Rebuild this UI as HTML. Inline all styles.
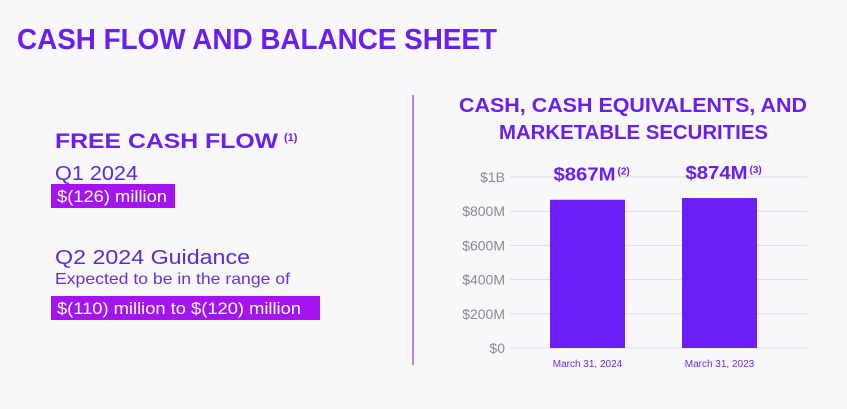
<!DOCTYPE html>
<html><head><meta charset="utf-8"><style>
html,body{margin:0;padding:0;background:#f8f7fa;}
svg{display:block;font-family:"Liberation Sans",sans-serif;}
</style></head><body>
<svg width="847" height="409" viewBox="0 0 847 409">
<rect width="847" height="409" fill="#f8f7fa"/>
<text x="17" y="49" font-size="29" font-weight="bold" fill="#6a1ff0" textLength="480" lengthAdjust="spacingAndGlyphs">CASH FLOW AND BALANCE SHEET</text>

<g>
<text x="55" y="148" font-size="21" font-weight="bold" fill="#6a1ff0" textLength="223" lengthAdjust="spacingAndGlyphs">FREE CASH FLOW</text>
<text x="284" y="141" font-size="11" font-weight="bold" fill="#6a1ff0">(1)</text>
<text x="55" y="180" font-size="20" fill="#5a2bd6" textLength="83" lengthAdjust="spacingAndGlyphs">Q1 2024</text>
<rect x="51" y="184" width="124" height="24" fill="#a414f0"/>
<text x="57" y="202" font-size="17" fill="#ffffff" textLength="110" lengthAdjust="spacingAndGlyphs">$(126) million</text>
<text x="55" y="264" font-size="20" fill="#5a2bd6" textLength="195" lengthAdjust="spacingAndGlyphs">Q2 2024 Guidance</text>
<text x="55" y="284" font-size="16" fill="#6a2fe0" textLength="235" lengthAdjust="spacingAndGlyphs">Expected to be in the range of</text>
<rect x="51" y="296" width="269" height="24" fill="#a414f0"/>
<text x="57" y="314" font-size="17" fill="#ffffff" textLength="244" lengthAdjust="spacingAndGlyphs">$(110) million to $(120) million</text>
</g>

<line x1="413" y1="95" x2="413" y2="365" stroke="#7b3cf0" stroke-width="1.2"/>

<text x="459" y="112" font-size="20" font-weight="bold" fill="#6a1ff0" textLength="348" lengthAdjust="spacingAndGlyphs">CASH, CASH EQUIVALENTS, AND</text>
<text x="499" y="139" font-size="20" font-weight="bold" fill="#6a1ff0" textLength="269" lengthAdjust="spacingAndGlyphs">MARKETABLE SECURITIES</text>
<g id="chart"></g>
</svg>
<script>
const categories = ["March 31, 2024", "March 31, 2023"];
const values = [867, 877];
const valueLabels = ["$867M", "$874M"];
const footnotes = ["(2)", "(3)"];
const tickValues = [0, 200, 400, 600, 800, 1000];
const tickLabels = ["$0", "$200M", "$400M", "$600M", "$800M", "$1B"];

const NS = "http://www.w3.org/2000/svg";
const g = document.getElementById("chart");
const y0 = 348, y1 = 177, xL = 510, xR = 807;
const yScale = v => y0 - (v / 1000) * (y0 - y1);
const barW = 75, centers = [587.5, 719.5];
const xScale = i => centers[i];
function mk(tag, attrs, text) {
  const e = document.createElementNS(NS, tag);
  for (const k in attrs) e.setAttribute(k, attrs[k]);
  if (text !== undefined) e.textContent = text;
  g.appendChild(e);
  return e;
}
tickValues.forEach((t, i) => {
  const y = yScale(t);
  const l = mk("line", {x1: xL, x2: xR, y1: y, y2: y, stroke: "#dcdbe0", "stroke-width": 1});
  
  
  const tx = mk("text", {x: 505, y: y + 5, "font-size": 14, fill: "#8a8a8e", "text-anchor": "end"}, tickLabels[i]);
  
  
});
values.forEach((v, i) => {
  const cx = xScale(i);
  const r = mk("rect", {x: cx - barW / 2, y: yScale(v), width: barW, height: y0 - yScale(v), fill: "#6b1ff5"});
  
  
  const ly = yScale(v) - 19;
  const t = mk("text", {x: cx - 34, y: ly, "font-size": 18, "font-weight": "bold", fill: "#6a1ff0", textLength: 62, lengthAdjust: "spacingAndGlyphs"}, valueLabels[i]);
  
  
  const f = mk("text", {x: cx + 30, y: ly - 6, "font-size": 10, "font-weight": "bold", fill: "#6a1ff0"}, footnotes[i]);
  
  
  const c = mk("text", {x: cx, y: 367, "font-size": 10, fill: "#6a2fe0", "text-anchor": "middle"}, categories[i]);
  
  
});
</script>
</body></html>
